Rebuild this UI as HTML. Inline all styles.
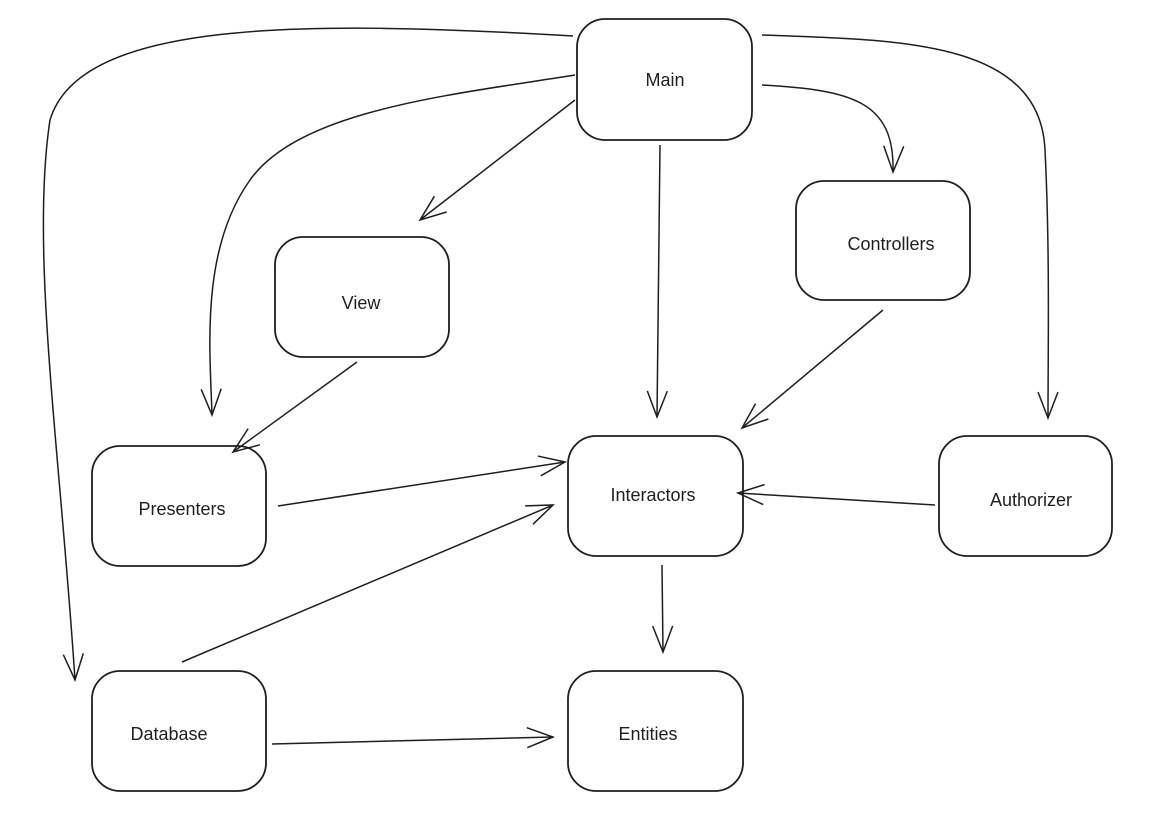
<!DOCTYPE html>
<html><head><meta charset="utf-8"><style>
html,body{margin:0;padding:0;background:#fff;}
svg{display:block}
text{font-family:"Liberation Sans",sans-serif;font-size:18px;fill:#1e1e1e;text-anchor:middle;dominant-baseline:central}
</style></head><body>
<svg width="1158" height="818" viewBox="0 0 1158 818">
<defs>
<marker id="a" viewBox="0 0 30 30" refX="28" refY="15" markerWidth="30" markerHeight="30" markerUnits="userSpaceOnUse" orient="auto">
<path d="M2 5 L28 15 L2 25" fill="none" stroke="#1e1e1e" stroke-width="1.5"/>
</marker>
</defs>
<g fill="none" stroke="#1e1e1e" stroke-width="1.8">
<rect x="577" y="19" width="175" height="121" rx="28"/>
<rect x="275" y="237" width="174" height="120" rx="28"/>
<rect x="796" y="181" width="174" height="119" rx="28"/>
<rect x="92" y="446" width="174" height="120" rx="28"/>
<rect x="568" y="436" width="175" height="120" rx="28"/>
<rect x="939" y="436" width="173" height="120" rx="28"/>
<rect x="92" y="671" width="174" height="120" rx="28"/>
<rect x="568" y="671" width="175" height="120" rx="28"/>
</g>
<g fill="none" stroke="#1e1e1e" stroke-width="1.5" marker-end="url(#a)">
<path d="M573 36 C300 20 80 20 50 120 C30 250 60 450 75 680"/>
<path d="M575 75 C450 95 300 110 250 180 C200 250 210 350 212 415"/>
<path d="M575 100 L420 220"/>
<path d="M660 145 L657 417"/>
<path d="M762 85 C850 90 895 100 893 172"/>
<path d="M762 35 C900 40 1040 40 1045 150 C1050 250 1048 350 1048 418"/>
<path d="M883 310 L742 428"/>
<path d="M357 362 L233 452"/>
<path d="M278 506 L565 462"/>
<path d="M935 505 L738 493"/>
<path d="M182 662 L553 505"/>
<path d="M662 565 L663 652"/>
<path d="M272 744 L553 737"/>
</g>
<text x="665" y="80">Main</text>
<text x="361" y="303">View</text>
<text x="891" y="244">Controllers</text>
<text x="182" y="509">Presenters</text>
<text x="653" y="495">Interactors</text>
<text x="1031" y="500">Authorizer</text>
<text x="169" y="734">Database</text>
<text x="648" y="734">Entities</text>
</svg>
</body></html>
